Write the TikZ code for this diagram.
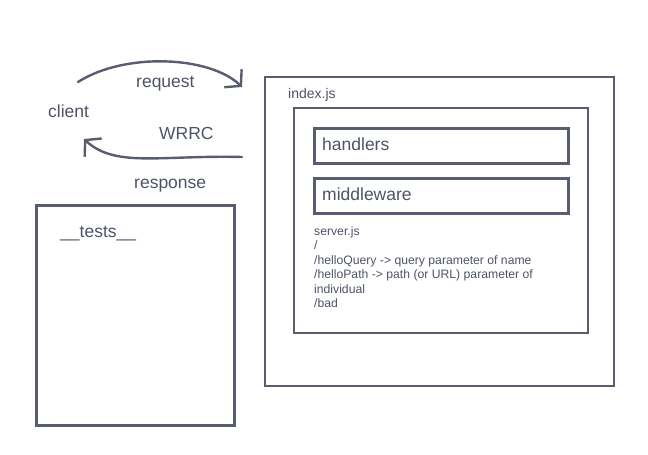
\documentclass[tikz,border=0pt]{standalone}
\usepackage{fontspec}
\setmainfont{Liberation Sans}
\usetikzlibrary{arrows.meta}
\definecolor{ink}{RGB}{88,94,112}
\definecolor{txt}{RGB}{78,84,102}

\begin{document}
\begin{tikzpicture}[x=1pt,y=-1pt,
  frame/.style={draw=ink,line width=2pt,anchor=north west,inner sep=0pt},
  slot/.style={draw=ink,line width=3pt,anchor=north west,inner sep=0pt},
  big/.style={text=txt,inner sep=0pt,anchor=base west,font=\fontsize{17.5}{20}\selectfont},
  small/.style={text=txt,inner sep=0pt,anchor=base west,font=\fontsize{14}{16}\selectfont},
  flow/.style={draw=ink,line width=2.4pt,line cap=round,
    -{Straight Barb[length=11pt,width=25pt,line width=2.4pt]}}]

\useasboundingbox (0,0) rectangle (648,455);

%draw boxes
\node[frame,minimum width=349pt,minimum height=309pt] (server) at (264,76) {};
\node[frame,minimum width=294pt,minimum height=225pt] (app) at (293,107) {};
\node[slot,minimum width=254pt,minimum height=35pt] (handlerbox) at (313,127) {};
\node[slot,minimum width=254pt,minimum height=35pt] (middlebox) at (313,177) {};
\node[frame,line width=2.5pt,minimum width=198pt,minimum height=220pt] (tests) at (35,204) {};

%draw labels
\node[big] (client) at (48,117) {client};
\node[big] (request) at (136,87) {request};
\node[big] (wrrc) at (159,139) {WRRC};
\node[big] (response) at (134,188) {response};
\node[small] (index) at (288,98.5) {index.js};
\node[big] (handlers) at (322,150) {handlers};
\node[big] (middleware) at (322,200) {middleware};
\node[big] (testname) at (60,237) {\_\_tests\_\_};

\node[text=txt,inner sep=0pt,anchor=north west,align=left,
  font=\fontsize{12.2}{14.5}\selectfont] (routes) at (314,226)
  {server.js\\/\\/helloQuery -> query parameter of name\\/helloPath -> path (or URL) parameter of\\individual\\/bad};

%draw arrows
\coordinate (reqfrom) at (78,82);
\coordinate (reqto) at (242,87);
\coordinate (resfrom) at (242,157);
\coordinate (resto) at (84,139);
\draw[flow] (reqfrom) .. controls (125,52) and (210,56) .. (reqto);
\draw[flow] (resfrom) .. controls (160,155) and (115,168) .. (resto);
\end{tikzpicture}
\end{document}
